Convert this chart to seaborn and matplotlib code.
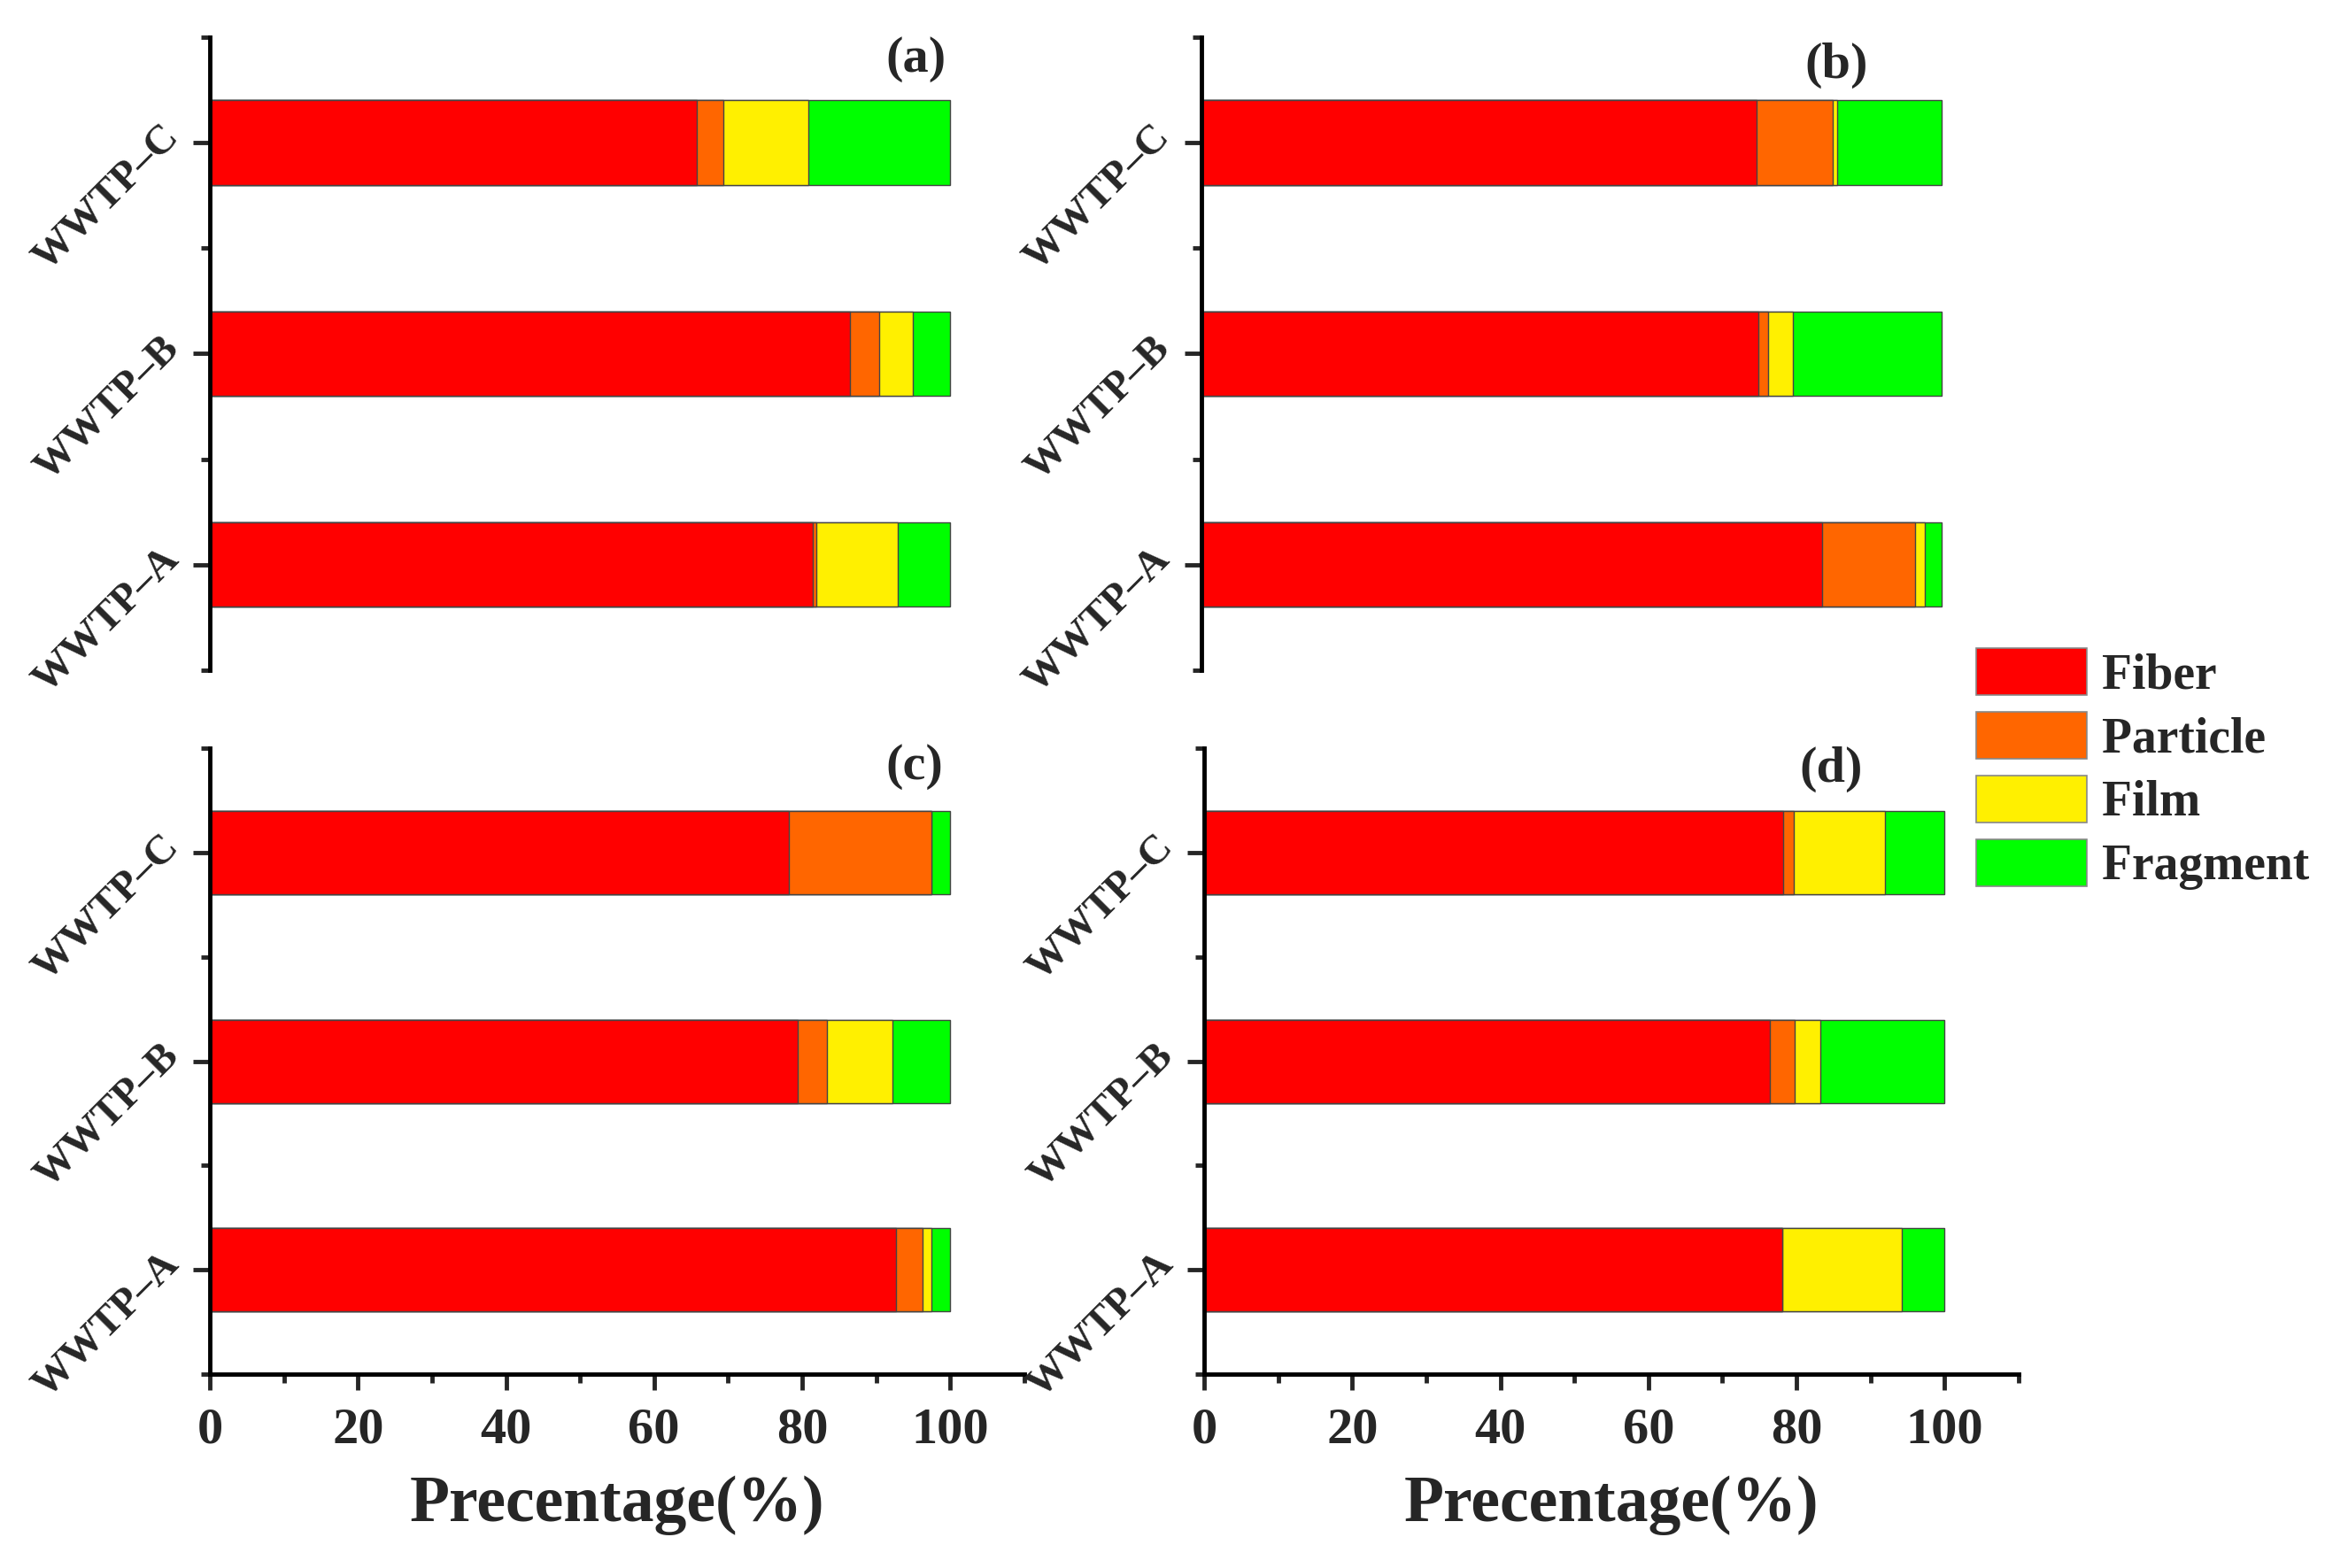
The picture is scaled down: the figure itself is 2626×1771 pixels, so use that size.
import pandas as pd
import numpy as np
import matplotlib.pyplot as plt
import matplotlib.transforms as mtransforms
import seaborn as sns
from matplotlib.patches import Patch
from matplotlib.ticker import FixedLocator

# Data (percent), sites in order A, B, C
sites = ["WWTP–A", "WWTP–B", "WWTP–C"]
types = ["Fiber", "Particle", "Film", "Fragment"]
colors = ["#FF0000", "#FF6600", "#FFF000", "#00FF00"]
panels = ["(a)", "(b)", "(c)", "(d)"]

fiber_a = [81.5, 86.5, 65.8]
particle_a = [0.4, 3.9, 3.6]
film_a = [11.0, 4.6, 11.4]
fragment_a = [7.1, 5.0, 19.2]

fiber_b = [83.9, 75.3, 75.1]
particle_b = [12.5, 1.3, 10.2]
film_b = [1.4, 3.4, 0.6]
fragment_b = [2.2, 20.0, 14.1]

fiber_c = [92.7, 79.4, 78.2]
particle_c = [3.6, 3.9, 19.3]
film_c = [1.2, 8.9, 0.0]
fragment_c = [2.5, 7.8, 2.5]

fiber_d = [78.1, 76.4, 78.2]
particle_d = [0.0, 3.4, 1.4]
film_d = [16.1, 3.4, 12.3]
fragment_d = [5.8, 16.8, 8.1]

panel_data = {
    "(a)": [fiber_a, particle_a, film_a, fragment_a],
    "(b)": [fiber_b, particle_b, film_b, fragment_b],
    "(c)": [fiber_c, particle_c, film_c, fragment_c],
    "(d)": [fiber_d, particle_d, film_d, fragment_d],
}

# long table with cumulative sums for stacking
rows = []
for p, vals in panel_data.items():
    for i, s in enumerate(sites):
        cum = 0.0
        for t, v in zip(types, vals):
            cum += v[i]
            rows.append({"panel": p, "site": s, "type": t, "value": v[i], "cum": cum})
df = pd.DataFrame(rows)

sns.set_theme(style="white")
plt.rcParams["font.family"] = ["Liberation Serif", "DejaVu Serif"]
plt.rcParams["font.weight"] = "bold"

fig = plt.figure(figsize=(26.26, 17.71), dpi=100)
positions = {
    "(a)": [0.0903, 0.5726, 0.3502, 0.4037],
    "(b)": [0.5166, 0.5726, 0.3502, 0.4037],
    "(c)": [0.0903, 0.1237, 0.3502, 0.3990],
    "(d)": [0.5180, 0.1237, 0.3502, 0.3990],
}
label_pos = {"(a)": (0.867, 0.965), "(b)": (0.78, 0.955),
             "(c)": (0.865, 0.971), "(d)": (0.77, 0.967)}

site_order = ["WWTP–C", "WWTP–B", "WWTP–A"]
lift = mtransforms.ScaledTranslation(0, 9 / 72, fig.dpi_scale_trans)

for p in panels:
    ax = fig.add_axes(positions[p])
    sub = df[df["panel"] == p]
    # draw from the total down so each stacked segment stays visible
    for t, c in reversed(list(zip(types, colors))):
        part = sub[sub["type"] == t]
        sns.barplot(data=part, x="cum", y="site", order=site_order, orient="h",
                    color=c, width=0.4, edgecolor="#444444", linewidth=1.0,
                    saturation=1, errorbar=None, ax=ax)
    ax.set_ylim(2.5, -0.5)
    ax.set_xlim(0, 110)
    ax.set_ylabel("")
    sns.despine(ax=ax, top=True, right=True)
    for sp in ["left", "bottom"]:
        ax.spines[sp].set_linewidth(3.5)
        ax.spines[sp].set_color("black")
    ax.yaxis.set_minor_locator(FixedLocator([-0.5, 0.5, 1.5, 2.5]))
    ax.tick_params(axis="y", which="major", direction="out", length=14, width=3.5,
                   left=True, pad=16, labelsize=34)
    ax.tick_params(axis="y", which="minor", direction="out", length=7, width=3.5, left=True)
    for lab in ax.get_yticklabels():
        lab.set_rotation(45)
        lab.set_rotation_mode("anchor")
        lab.set_ha("right")
        lab.set_va("center")
        lab.set_fontweight("bold")
        lab.set_transform(lab.get_transform() + lift)
    if p in ("(a)", "(b)"):
        ax.spines["bottom"].set_visible(False)
        ax.set_xticks([])
        ax.set_xlabel("")
    else:
        ax.xaxis.set_major_locator(FixedLocator([0, 20, 40, 60, 80, 100]))
        ax.xaxis.set_minor_locator(FixedLocator([10, 30, 50, 70, 90, 110]))
        ax.tick_params(axis="x", which="major", direction="out", length=13, width=3.5,
                       bottom=True, labelsize=42, pad=14)
        ax.tick_params(axis="x", which="minor", direction="out", length=7, width=3.5,
                       bottom=True)
        for lab in ax.get_xticklabels():
            lab.set_fontweight("bold")
        ax.set_xlabel("Precentage(%)", fontsize=53, fontweight="bold", labelpad=18)
    ax.text(label_pos[p][0], label_pos[p][1], p, transform=ax.transAxes,
            ha="center", va="center", fontsize=42, fontweight="bold")

handles = [Patch(facecolor=c, edgecolor="#888888", linewidth=1.2, label=t)
           for t, c in zip(types, colors)]
leg = fig.legend(handles=handles, loc="upper left", bbox_to_anchor=(0.8415, 0.5995),
                 frameon=False, fontsize=40, handlelength=2.25, handleheight=1.1,
                 labelspacing=0.26, handletextpad=0.3, borderaxespad=0)
for txt in leg.get_texts():
    txt.set_fontweight("bold")

plt.savefig("out.png", dpi=100)
